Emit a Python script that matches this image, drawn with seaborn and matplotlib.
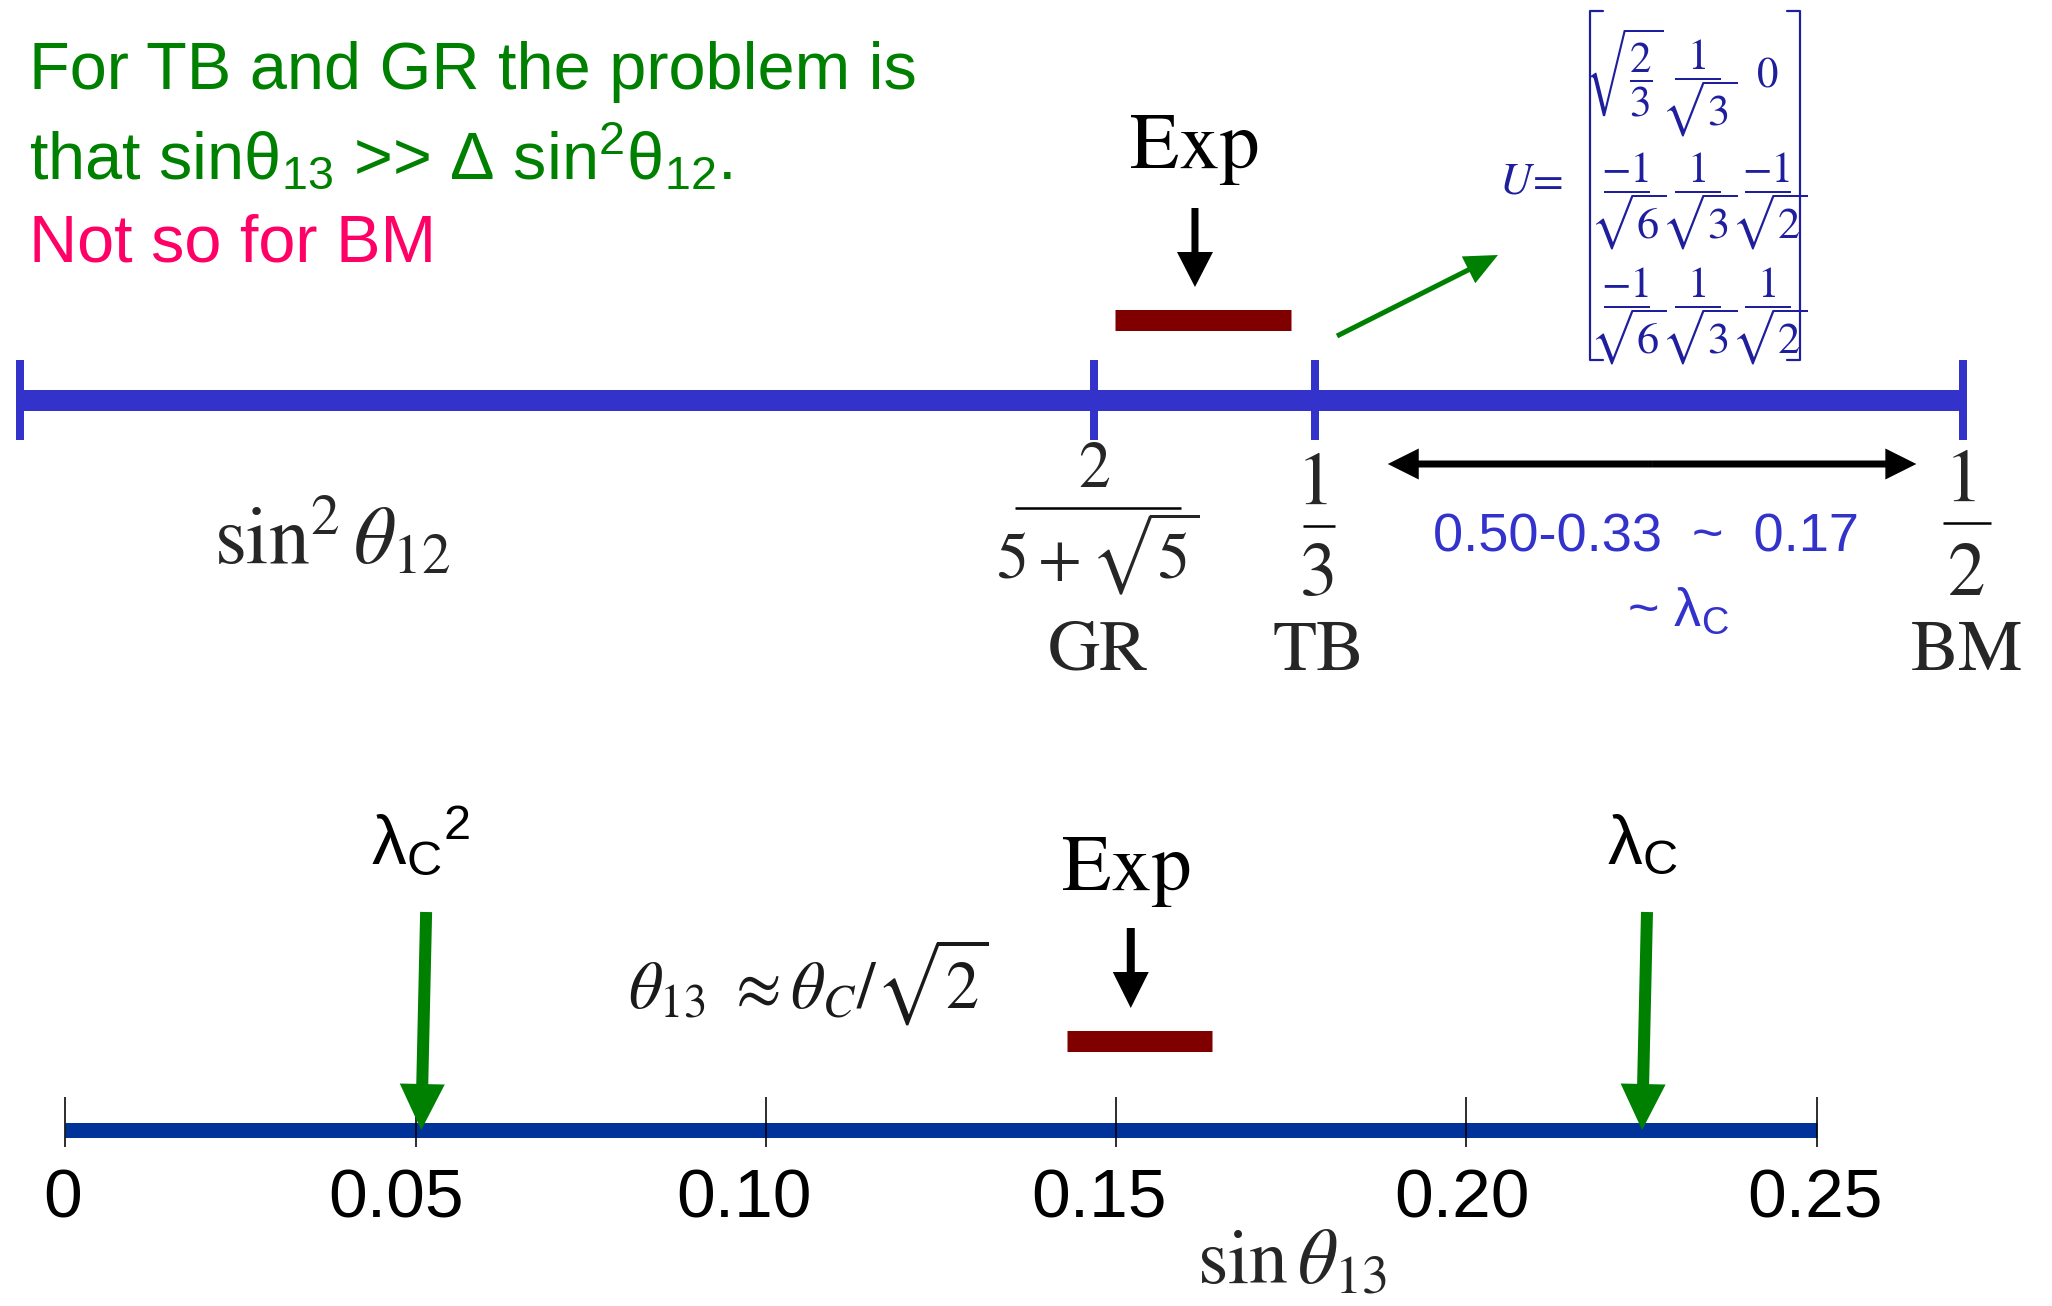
import numpy as np
import matplotlib
matplotlib.use("Agg")
import matplotlib.pyplot as plt
import seaborn as sns

# ---------------- data ----------------
# upper strip: sin^2(theta_12)
sin2_axis_range = [0.0, 0.5]
model_names = ["GR", "TB", "BM"]
model_sin2 = [0.2764, 0.3333, 0.5]          # 2/(5+sqrt5), 1/3, 1/2
exp_sin2_range = [0.2818, 0.3271]
exp_sin2_mark = 0.3024
gap_span = [0.352, 0.488]                   # TB -> BM distance arrow

# lower strip: sin(theta_13)
sin13_range = [0.0, 0.25]
sin13_ticks = [0.0, 0.05, 0.10, 0.15, 0.20, 0.25]
sin13_tick_labels = ["0", "0.05", "0.10", "0.15", "0.20", "0.25"]
exp_sin13_range = [0.1430, 0.1637]
exp_sin13_mark = 0.1521
cabibbo_marks = [0.0508, 0.2251]            # lambda_C^2, lambda_C
cabibbo_labels = [r"$\mathregular{{λ_C}^{2}}$", r"$\mathregular{λ_C}$"]

# tri-bimaximal mixing matrix entries (numerator, denominator)
tbm_entries = [
    [None, ("1", r"$\sqrt{3}$"), ("0", None)],
    [("\u22121", r"$\sqrt{6}$"), ("1", r"$\sqrt{3}$"), ("\u22121", r"$\sqrt{2}$")],
    [("\u22121", r"$\sqrt{6}$"), ("1", r"$\sqrt{3}$"), ("1", r"$\sqrt{2}$")],
]
tbm_corner = r"$\sqrt{\dfrac{2}{3}}$"

# ---------------- style ----------------
W, H, DPI = 2052, 1306, 100
sns.set_theme(style="white")
plt.rcParams["mathtext.fontset"] = "stix"
SERIF = ["STIXGeneral", "DejaVu Serif"]
SANS = ["Liberation Sans Narrow", "Liberation Sans", "DejaVu Sans"]
plt.rcParams["font.family"] = SERIF

BLUE = "#3333CC"
NAVY = "#003399"
MATRIX = "#1f1f9e"
DARKRED = "#800000"
GREEN = "#008000"
PINK = "#FF0066"
PT = 72 / DPI   # pixels -> points

fig = plt.figure(figsize=(W / DPI, H / DPI), dpi=DPI)
fig.patch.set_facecolor("white")


def strip_axes(x0_px, x1_px):
    ax = fig.add_axes([x0_px / W, 0, (x1_px - x0_px) / W, 1])
    ax.axis("off")
    return ax


def fix_limits(ax, lim):
    ax.set_xlim(*lim)
    ax.set_ylim(H, 0)


def arrow(ax, tip, tail, color, shaft_px, head_len_px, head_w_px):
    ax.annotate(
        "", xy=tip, xytext=tail, annotation_clip=False,
        arrowprops=dict(width=shaft_px * PT, headwidth=head_w_px * PT,
                        headlength=head_len_px * PT, shrink=0.0,
                        color=color, lw=0, clip_on=False),
    )


ov = fig.add_axes([0, 0, 1, 1])
ov.axis("off")
top = strip_axes(19.6, 1963)
bot = strip_axes(65.4, 1816.5)
bot_px_per_unit = (1816.5 - 65.4) / (sin13_range[1] - sin13_range[0])

# ---------------- upper strip ----------------
sns.lineplot(x=sin2_axis_range, y=[400, 400], ax=top, color=BLUE,
             linewidth=21 * PT, solid_capstyle="butt", legend=False, clip_on=False)
top.vlines([sin2_axis_range[0]] + model_sin2, 360, 440, color=BLUE, lw=8 * PT,
           clip_on=False)
sns.lineplot(x=exp_sin2_range, y=[320, 320], ax=top, color=DARKRED,
             linewidth=21 * PT, solid_capstyle="butt", legend=False, clip_on=False)
arrow(top, (exp_sin2_mark, 287), (exp_sin2_mark, 208), "black", 7, 35, 36)
top.text(exp_sin2_mark, 168, "Exp", ha="center", va="baseline",
         fontsize=58, family=SERIF, color="black")

# fraction labels under the model ticks
frac_num = ["2", "1", "1"]
frac_den = [r"$5+\sqrt{5}$", "3", "2"]
frac_size = [46, 54, 54]
num_base = [487, 504, 501]
bar_y = [508, 526, 523]
den_base = [578, 595, 595]
bar_half = [0.0214, 0.0040, 0.0062]
for v, n, d, fs, nb, by, db, bh, name in zip(model_sin2, frac_num, frac_den,
                                             frac_size, num_base, bar_y,
                                             den_base, bar_half, model_names):
    top.text(v, nb, n, ha="center", va="baseline", fontsize=fs, family=SERIF)
    top.plot([v - bh + 0.001, v + bh + 0.001], [by, by], color="black", lw=1.8,
             solid_capstyle="butt", clip_on=False)
    top.text(v + 0.001, db, d, ha="center", va="baseline", fontsize=fs, family=SERIF)
    top.text(v + 0.001, 670, name, ha="center", va="baseline", fontsize=52,
             family=SERIF)

ov.text(214, 563, r"$\sin^2\theta_{12}$", ha="left", va="baseline", fontsize=59)

# TB -> BM distance (double-headed)
mid = sum(gap_span) / 2
arrow(top, (gap_span[0], 464), (mid, 464), "black", 7, 31, 31)
arrow(top, (gap_span[1], 464), (mid, 464), "black", 7, 31, 31)
ov.text(1646, 552, "0.50-0.33  ~  0.17", ha="center", va="baseline",
        fontsize=39, family=SANS, color=BLUE)
ov.text(1678, 626, r"~ $\mathregular{λ_C}$", ha="center", va="baseline",
        fontsize=39, family=SANS, color=BLUE)

# pointer to the tri-bimaximal matrix
arrow(ov, (1498, 255), (1337, 336), GREEN, 5, 33, 30)

ov.text(1531, 183, r"$U\!=$", ha="center", va="center", fontsize=32,
        color=MATRIX)
for bx, sgn in [(1590, 1), (1800, -1)]:
    ov.plot([bx + sgn * 13, bx, bx, bx + sgn * 13], [11, 11, 360, 360],
            color=MATRIX, lw=2.2 * PT)
col_x = [1627, 1698, 1768]
row_bar = [79, 192, 307]
for r, row in enumerate(tbm_entries):
    for c, e in enumerate(row):
        if e is None:
            continue
        num, den = e
        if den is None:
            ov.text(col_x[c], row_bar[r] - 2, num, ha="center", va="center",
                    fontsize=31, family=SERIF, color=MATRIX)
            continue
        ov.text(col_x[c], row_bar[r] - 10, num, ha="center", va="baseline",
                fontsize=31, family=SERIF, color=MATRIX)
        ov.plot([col_x[c] - 23, col_x[c] + 23], [row_bar[r]] * 2, color=MATRIX,
                lw=2 * PT, solid_capstyle="butt")
        ov.text(col_x[c] + 1, row_bar[r] + 47, den, ha="center", va="baseline",
                fontsize=32, color=MATRIX)
ov.text(col_x[0] - 3, 72, tbm_corner, ha="center", va="center", fontsize=31,
        color=MATRIX)

# headline statement
ov.text(29, 89, "For TB and GR the problem is", ha="left", va="baseline",
        fontsize=48, family=SANS, color=GREEN)
ov.text(29, 179, r"that sin$\mathregular{θ_{13}}$ >> Δ sin$\mathregular{^{2}θ_{12}}$.",
        ha="left", va="baseline", fontsize=48, family=SANS, color=GREEN)
ov.text(29, 262, "Not so for BM", ha="left", va="baseline",
        fontsize=48, family=SANS, color=PINK)

# ---------------- lower strip ----------------
sns.lineplot(x=sin13_range, y=[1129.5, 1129.5], ax=bot, color=NAVY,
             linewidth=15 * PT, solid_capstyle="butt", legend=False, clip_on=False)
bot.vlines(sin13_ticks, 1097, 1147, color="black", lw=1.6 * PT, clip_on=False)
label_shift_px = [-3, -20, -22, -17, -4, -1]
for t, lab, sh in zip(sin13_ticks, sin13_tick_labels, label_shift_px):
    bot.text(t + sh / bot_px_per_unit, 1217, lab, ha="center", va="baseline",
             fontsize=50, family=SANS, color="black")
ov.text(1197, 1283, r"$\sin\theta_{13}$", ha="left", va="baseline", fontsize=56)

sns.lineplot(x=exp_sin13_range, y=[1040.5, 1040.5], ax=bot, color=DARKRED,
             linewidth=21 * PT, solid_capstyle="butt", legend=False, clip_on=False)
arrow(bot, (exp_sin13_mark, 1008), (exp_sin13_mark, 928), "black", 8, 36, 36)
bot.text(exp_sin13_mark - 0.0006, 890, "Exp", ha="center", va="baseline",
         fontsize=58, family=SERIF, color="black")

for m, lab in zip(cabibbo_marks, cabibbo_labels):
    arrow(bot, (m, 1130), (m + 0.0007, 912), GREEN, 12, 46, 45)
    bot.text(m, 864, lab, ha="center", va="baseline", fontsize=50,
             family=SANS, color="black")

ov.text(628, 1008, r"$\theta_{13}\ \approx \theta_C/\sqrt{2}$", ha="left",
        va="baseline", fontsize=48, color="#1a1a1a")

fix_limits(top, sin2_axis_range)
fix_limits(bot, sin13_range)
ov.set_xlim(0, W)
ov.set_ylim(H, 0)

fig.savefig("out.png", dpi=DPI, facecolor="white")
